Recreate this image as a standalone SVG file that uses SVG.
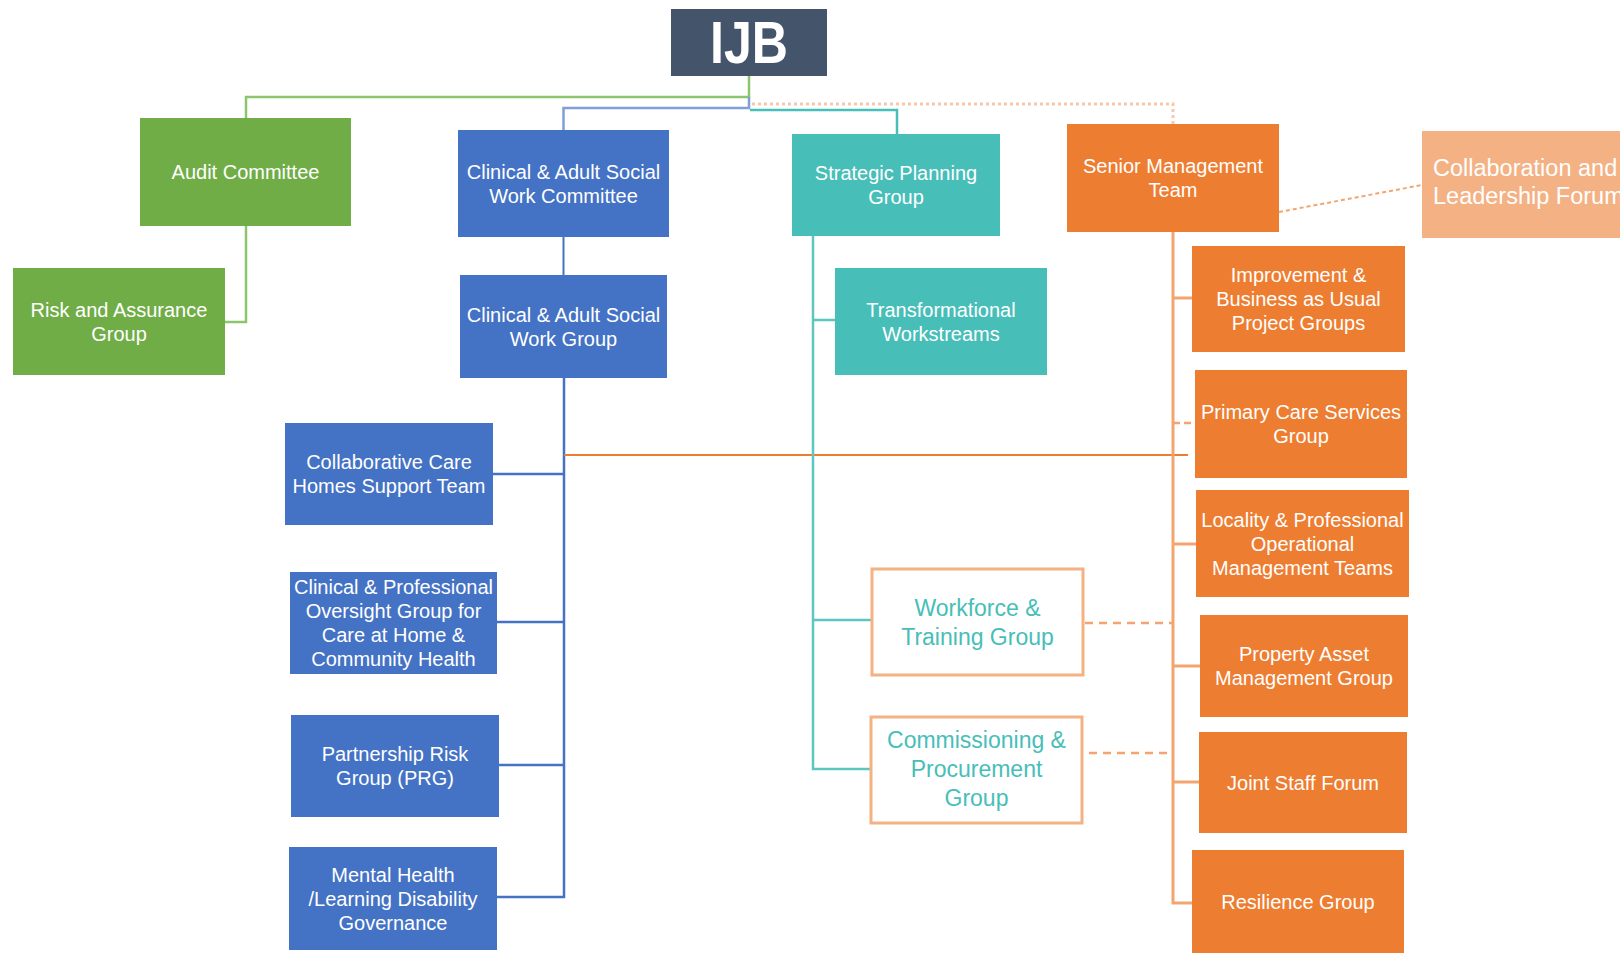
<svg xmlns="http://www.w3.org/2000/svg" width="1620" height="953" viewBox="0 0 1620 953">
<style>
  .t{font-family:"Liberation Sans",Arial,sans-serif;font-size:20px;fill:#fff;text-anchor:middle}
  .tw{font-family:"Liberation Sans",Arial,sans-serif;font-size:23px;fill:#47BEB8;text-anchor:middle}
  .green{fill:#70AD47}
  .blue{fill:#4472C4}
  .teal{fill:#47BEB8}
  .orange{fill:#ED7D31}
  .lorange{fill:#F4B183}
  .outline{fill:#fff;stroke:#F4B183;stroke-width:3}
  .c{fill:none}
</style>
<rect width="1620" height="953" fill="#fff"/>
<g id="connectors" class="c">
  <path d="M749,76 V97 H246 V118" stroke="#8DC56C" stroke-width="2.5"/>
  <path d="M246,226 V322 H225" stroke="#8DC56C" stroke-width="2.5"/>
  <path d="M749,97 V108 H563.5 V130" stroke="#7F9FD9" stroke-width="2.5"/>
  <path d="M752,104 H1173 V124" stroke="#F8C9A8" stroke-width="3" stroke-dasharray="3 3"/>
  <path d="M750,110 H897 V134" stroke="#47BEB8" stroke-width="2.5"/>
  <path d="M563.5,237 V275" stroke="#4472C4" stroke-width="2"/>
  <path d="M564,378 V897 H497" stroke="#4472C4" stroke-width="2.5"/>
  <path d="M493,474 H564 M497,622 H564 M499,765 H564" stroke="#4472C4" stroke-width="2.5"/>
  <path d="M564,455 H1188" stroke="#ED7D31" stroke-width="2"/>
  <path d="M813,236 V769 H871" stroke="#5CC6C0" stroke-width="2.5"/>
  <path d="M813,320 H835 M813,620 H872" stroke="#5CC6C0" stroke-width="2.5"/>
  <path d="M1173,232 V903 H1192" stroke="#F3A570" stroke-width="3"/>
  <path d="M1173,298 H1192 M1173,544 H1196 M1173,666 H1200 M1173,782 H1199" stroke="#F3A570" stroke-width="3"/>
  <path d="M1173,423 H1195" stroke="#F3A570" stroke-width="2.5" stroke-dasharray="7 4"/>
  <path d="M1085,623 H1173 M1075,753 H1173" stroke="#F3A570" stroke-width="2.5" stroke-dasharray="8 6"/>
  <path d="M1279,212 L1422,185" stroke="#F3A570" stroke-width="2" stroke-dasharray="4 3"/>
</g>
<g id="ijb">
  <rect x="671" y="9" width="156" height="67" fill="#44546A"/>
  <text x="749" y="63" font-family="Liberation Sans,Arial,sans-serif" font-size="60" font-weight="bold" fill="#fff" text-anchor="middle" textLength="78" lengthAdjust="spacingAndGlyphs">IJB</text>
</g>
<g id="audit-committee">
  <rect class="green" x="140" y="118" width="211" height="108"/>
  <text class="t" x="245.5" y="179">Audit Committee</text>
</g>
<g id="risk-assurance">
  <rect class="green" x="13" y="268" width="212" height="107"/>
  <text class="t" x="119" y="316.5">Risk and Assurance</text>
  <text class="t" x="119" y="340.5">Group</text>
</g>
<g id="casw-committee">
  <rect class="blue" x="458" y="130" width="211" height="107"/>
  <text class="t" x="563.5" y="178.5">Clinical &amp; Adult Social</text>
  <text class="t" x="563.5" y="202.5">Work Committee</text>
</g>
<g id="casw-group">
  <rect class="blue" x="460" y="275" width="207" height="103"/>
  <text class="t" x="563.5" y="321.5">Clinical &amp; Adult Social</text>
  <text class="t" x="563.5" y="345.5">Work Group</text>
</g>
<g id="collaborative-care">
  <rect class="blue" x="285" y="423" width="208" height="102"/>
  <text class="t" x="389" y="469">Collaborative Care</text>
  <text class="t" x="389" y="493">Homes Support Team</text>
</g>
<g id="oversight-group">
  <rect class="blue" x="290" y="572" width="207" height="102"/>
  <text class="t" x="393.5" y="594">Clinical &amp; Professional</text>
  <text class="t" x="393.5" y="618">Oversight Group for</text>
  <text class="t" x="393.5" y="642">Care at Home &amp;</text>
  <text class="t" x="393.5" y="666">Community Health</text>
</g>
<g id="partnership-risk">
  <rect class="blue" x="291" y="715" width="208" height="102"/>
  <text class="t" x="395" y="761">Partnership Risk</text>
  <text class="t" x="395" y="785">Group (PRG)</text>
</g>
<g id="mental-health">
  <rect class="blue" x="289" y="847" width="208" height="103"/>
  <text class="t" x="393" y="881.5">Mental Health</text>
  <text class="t" x="393" y="905.5">/Learning Disability</text>
  <text class="t" x="393" y="929.5">Governance</text>
</g>
<g id="strategic-planning">
  <rect class="teal" x="792" y="134" width="208" height="102"/>
  <text class="t" x="896" y="180">Strategic Planning</text>
  <text class="t" x="896" y="204">Group</text>
</g>
<g id="transformational">
  <rect class="teal" x="835" y="268" width="212" height="107"/>
  <text class="t" x="941" y="316.5">Transformational</text>
  <text class="t" x="941" y="340.5">Workstreams</text>
</g>
<g id="workforce-training">
  <rect class="outline" x="872" y="569" width="211" height="106"/>
  <text class="tw" x="977.5" y="616">Workforce &amp;</text>
  <text class="tw" x="977.5" y="645">Training Group</text>
</g>
<g id="commissioning">
  <rect class="outline" x="871" y="717" width="211" height="106"/>
  <text class="tw" x="976.5" y="748">Commissioning &amp;</text>
  <text class="tw" x="976.5" y="777">Procurement</text>
  <text class="tw" x="976.5" y="806">Group</text>
</g>
<g id="senior-management">
  <rect class="orange" x="1067" y="124" width="212" height="108"/>
  <text class="t" x="1173" y="173">Senior Management</text>
  <text class="t" x="1173" y="197">Team</text>
</g>
<g id="collaboration-forum">
  <rect class="lorange" x="1422" y="131" width="260" height="107"/>
  <text x="1433" y="176" font-family="Liberation Sans,Arial,sans-serif" font-size="23.5" fill="#fff">Collaboration and</text>
  <text x="1433" y="204" font-family="Liberation Sans,Arial,sans-serif" font-size="23.5" fill="#fff">Leadership Forum</text>
</g>
<g id="improvement">
  <rect class="orange" x="1192" y="246" width="213" height="106"/>
  <text class="t" x="1298.5" y="282">Improvement &amp;</text>
  <text class="t" x="1298.5" y="306">Business as Usual</text>
  <text class="t" x="1298.5" y="330">Project Groups</text>
</g>
<g id="primary-care">
  <rect class="orange" x="1195" y="370" width="212" height="108"/>
  <text class="t" x="1301" y="419">Primary Care Services</text>
  <text class="t" x="1301" y="443">Group</text>
</g>
<g id="locality">
  <rect class="orange" x="1196" y="490" width="213" height="107"/>
  <text class="t" x="1302.5" y="526.5">Locality &amp; Professional</text>
  <text class="t" x="1302.5" y="550.5">Operational</text>
  <text class="t" x="1302.5" y="574.5">Management Teams</text>
</g>
<g id="property-asset">
  <rect class="orange" x="1200" y="615" width="208" height="102"/>
  <text class="t" x="1304" y="661">Property Asset</text>
  <text class="t" x="1304" y="685">Management Group</text>
</g>
<g id="joint-staff">
  <rect class="orange" x="1199" y="732" width="208" height="101"/>
  <text class="t" x="1303" y="789.5">Joint Staff Forum</text>
</g>
<g id="resilience">
  <rect class="orange" x="1192" y="850" width="212" height="110"/>
  <text class="t" x="1298" y="909">Resilience Group</text>
</g>
</svg>
